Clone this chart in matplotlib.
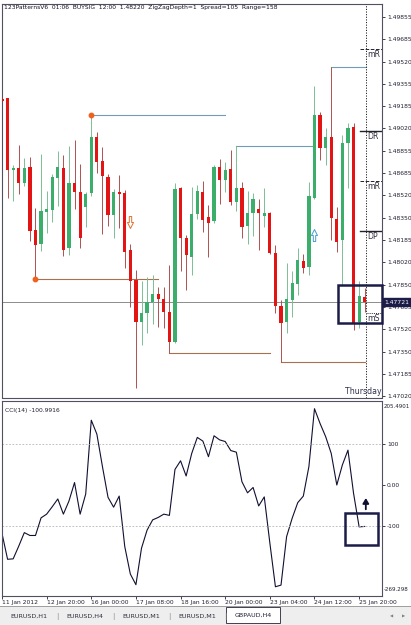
import matplotlib
matplotlib.use("Agg")
import matplotlib.pyplot as plt
import matplotlib.transforms as mtransforms
from matplotlib.patches import Rectangle
from matplotlib.path import Path

# GBPAUD H4 candles, first bar is 11 Jan 2012 12:00
opens = [1.49240, 1.49250, 1.48713, 1.48722, 1.48610, 1.48732, 1.48261, 1.48156, 1.48397, 1.48408,
         1.48652, 1.48726, 1.48124, 1.48610, 1.48547, 1.48435, 1.48535, 1.48958, 1.48776, 1.48659,
         1.48373, 1.48547, 1.48535, 1.48111, 1.47887, 1.47575, 1.47638, 1.47725, 1.47782, 1.47745,
         1.47646, 1.47426, 1.48572, 1.48203, 1.48061, 1.48378, 1.48545, 1.48360, 1.48330, 1.48729,
         1.48634, 1.48717, 1.48472, 1.48577, 1.48293, 1.48386, 1.48415, 1.48368, 1.48386, 1.48091,
         1.47693, 1.47575, 1.47738, 1.47855, 1.48029, 1.47986, 1.48502, 1.49120, 1.48871, 1.48958,
         1.48343, 1.48186, 1.48909, 1.49033, 1.47575, 1.47758]
highs = [1.49255, 1.49250, 1.48746, 1.48896, 1.48797, 1.48809, 1.48423, 1.48829, 1.48552, 1.48679,
         1.48849, 1.48821, 1.48886, 1.48933, 1.48752, 1.48542, 1.49120, 1.48995, 1.48883, 1.48677,
         1.48567, 1.48672, 1.48560, 1.48154, 1.47962, 1.47880, 1.47912, 1.47924, 1.47837, 1.47837,
         1.47999, 1.48614, 1.48584, 1.48223, 1.48584, 1.48597, 1.48629, 1.48448, 1.48746, 1.48791,
         1.48769, 1.48859, 1.48889, 1.48622, 1.48552, 1.48540, 1.48490, 1.48572, 1.48397, 1.48149,
         1.47738, 1.48012, 1.47954, 1.48124, 1.48079, 1.48617, 1.49337, 1.49145, 1.49025, 1.49481,
         1.48435, 1.48971, 1.49058, 1.49058, 1.47880, 1.47825]
lows = [1.49210, 1.48502, 1.48477, 1.48527, 1.48592, 1.48178, 1.47894, 1.48106, 1.48240, 1.48323,
        1.48442, 1.48069, 1.48074, 1.48418, 1.48124, 1.48285, 1.48517, 1.48684, 1.48229, 1.48291,
        1.48199, 1.48278, 1.47979, 1.47687, 1.47078, 1.47401, 1.47489, 1.47556, 1.47538, 1.47531,
        1.47344, 1.47414, 1.47954, 1.47812, 1.47924, 1.48341, 1.48248, 1.48057, 1.48311, 1.48455,
        1.48547, 1.48448, 1.48405, 1.48199, 1.48154, 1.48218, 1.48111, 1.48285, 1.48081, 1.47638,
        1.47276, 1.47489, 1.47613, 1.47775, 1.47937, 1.47924, 1.48492, 1.48784, 1.48746, 1.48186,
        1.48099, 1.47850, 1.48577, 1.47513, 1.47531, 1.47650]
closes = [1.49225, 1.48709, 1.48728, 1.48610, 1.48722, 1.48255, 1.48146, 1.48403, 1.48418, 1.48657,
          1.48732, 1.48113, 1.48610, 1.48542, 1.48203, 1.48532, 1.48958, 1.48771, 1.48667, 1.48373,
          1.48542, 1.48532, 1.48099, 1.47880, 1.47575, 1.47638, 1.47720, 1.47782, 1.47743, 1.47650,
          1.47426, 1.48567, 1.48199, 1.48074, 1.48380, 1.48552, 1.48335, 1.48315, 1.48729, 1.48634,
          1.48709, 1.48472, 1.48577, 1.48281, 1.48390, 1.48490, 1.48386, 1.48386, 1.48087, 1.47693,
          1.47568, 1.47745, 1.47867, 1.48036, 1.47979, 1.48515, 1.49120, 1.48871, 1.48958, 1.48348,
          1.48173, 1.48909, 1.49025, 1.47563, 1.47770, 1.47721]

# CCI(14) value for every bar
cci = [-118, -181, -180, -149, -116, -123, -123, -80, -71, -53,
       -34, -71, -39, 6, -71, -22, 158, 124, 45, -30,
       -54, -27, -150, -217, -243, -154, -110, -85, -79, -71,
       -74, 38, 59, 22, 77, 116, 107, 69, 120, 110,
       106, 84, 80, 8, -19, -6, -51, -29, -141, -248,
       -244, -126, -81, -43, -27, 45, 186, 150, 118, 77,
       0, 49, 85, -20, -102, -101]

# price scale labels on the right
price_ticks = [1.49855, 1.49685, 1.49520, 1.49355, 1.49185, 1.49020, 1.48855, 1.48685, 1.48520,
               1.48350, 1.48185, 1.48020, 1.47850, 1.47685, 1.47520, 1.47350, 1.47185, 1.47020]
last_price = 1.47721

# date labels, one every 8 bars
date_labels = ["11 Jan 2012", "12 Jan 20:00", "16 Jan 00:00", "17 Jan 08:00", "18 Jan 16:00",
               "20 Jan 00:00", "23 Jan 04:00", "24 Jan 12:00", "25 Jan 20:00"]

# 123 pattern swing lines (start bar, end bar)
swing_high_bars = [16, 42, 59]
swing_high_ends = [40, 56, 65.2]
swing_low_bars = [6, 30, 50]
swing_low_ends = [28, 48, 65]

# pivot levels drawn at the right edge
pivot_names = ["mR", "DR", "mR", "DP", "mS"]
pivot_levels = [1.49613, 1.49001, 1.48627, 1.48255, 1.47638]
pivot_styles = ["dashed", "solid", "dashed", "solid", "dotted"]

# signal arrows: bar, price
sell_arrow = (23, 1.48317)
buy_arrow = (56, 1.48220)

tab_names = ["EURUSD,H1", "EURUSD,H4", "EURUSD,M1", "EURUSD,M1", "GBPAUD,H4"]

W, H = 411, 625
SMALL = 4.3
BULL, BEAR = "#3cae6c", "#e31414"
BULL_WICK, BEAR_WICK = "#7cbf96", "#b05050"
DARK = "#1c1c48"


def hollow_arrow(up):
    # build a simple hollow arrow path used as a marker
    s = 1 if up else -1
    verts = [(-0.2, -s), (0.2, -s), (0.2, 0), (0.5, 0), (0, s), (-0.5, 0), (-0.2, 0), (-0.2, -s)]
    return Path(verts, closed=True)


fig = plt.figure(figsize=(W / 100, H / 100), dpi=100)
fig.patch.set_facecolor("white")

# main price pane
ax = fig.add_axes([2 / W, 1 - 397.5 / H, 380 / W, 393.5 / H])
# CCI pane
ax2 = fig.add_axes([2 / W, 1 - 595.5 / H, 380 / W, 194.8 / H])

xs = list(range(len(opens)))

# candles
for i in xs:
    o, h, l, c = opens[i], highs[i], lows[i], closes[i]
    bull = c >= o
    ax.vlines(i, l, h, colors=BULL_WICK if bull else BEAR_WICK, lw=0.7, zorder=2)
    body = max(abs(c - o), 0.000025)
    ax.bar(i, body, bottom=min(o, c), width=0.58, color=BULL if bull else BEAR, lw=0, zorder=3)

# current price line
ax.axhline(last_price, color="#8c8c8c", lw=0.7, zorder=1)

# swing lines from the 123 pattern
for b, e in zip(swing_high_bars, swing_high_ends):
    ax.plot([b, e], [highs[b], highs[b]], color="#6f9db5", lw=0.8, zorder=1.5)
for b, e in zip(swing_low_bars, swing_low_ends):
    ax.plot([b, e], [lows[b], lows[b]], color="#a8704f", lw=0.8, zorder=1.5)
ax.plot(swing_high_bars[0], highs[swing_high_bars[0]], "o", color="#f0601e", ms=3.2, zorder=4)
ax.plot(swing_low_bars[0], lows[swing_low_bars[0]], "o", color="#f0601e", ms=3.2, zorder=4)

# signal arrows
ax.plot(*sell_arrow, marker=hollow_arrow(False), ms=8.6, mfc="white", mec="#e07030", mew=0.7, zorder=4)
ax.plot(*buy_arrow, marker=hollow_arrow(True), ms=8.6, mfc="white", mec="#4a9ad0", mew=0.7, zorder=4)

# pivot levels and labels
for name, lvl, st in zip(pivot_names, pivot_levels, pivot_styles):
    x0 = 65.4 if name == "mS" else 64.2
    lw = 1.0 if st == "solid" else 0.7
    ax.plot([x0, 68.2], [lvl, lvl], color="#202030", lw=lw, linestyle=st if st != "dotted" else (0, (1, 1.2)), zorder=5)
    ax.text(65.5, lvl - 0.00008, name, fontsize=5.6, color="#303040", va="top", ha="left", zorder=5)

# day separator
ax.axvline(65.15, color="#202020", lw=0.7, linestyle=(0, (1.2, 1.5)), zorder=5)
ax.text(68.1, 1.47052, "Thursday", fontsize=5.6, color="#303050", ha="right", va="center", zorder=5)

# highlight box
ax.add_patch(Rectangle((60.27, 1.47563), 7.9, 0.00287, fill=False, ec=DARK, lw=1.8, zorder=6, clip_on=False))

ax.set_xlim(0, 68.1)
ax.set_ylim(1.47009, 1.49950)
ax.set_xticks([])
ax.yaxis.tick_right()
ax.set_yticks(price_ticks)
ax.set_yticklabels(["%.5f" % p for p in price_ticks])
ax.tick_params(axis="y", labelsize=SMALL, length=2, width=0.6, pad=1.5, colors="#202030")

# last price tag on the scale
trans = mtransforms.blended_transform_factory(ax.transAxes, ax.transData)
ax.text(1.006, last_price, "%.5f" % last_price, transform=trans, fontsize=SMALL, color="white",
        va="center", ha="left", zorder=10,
        bbox=dict(boxstyle="square,pad=0.25", fc=DARK, ec=DARK))

# CCI line and levels
ax2.plot(xs, cci, color="#101030", lw=0.8)
ax2.axhline(100, color="#b4b4b4", lw=0.6, linestyle=(0, (2, 2)))
ax2.axhline(-100, color="#b4b4b4", lw=0.6, linestyle=(0, (2, 2)))
ax2.set_xlim(0, 68.1)
ax2.set_ylim(-269.298, 205.4901)
ax2.yaxis.tick_right()
ax2.set_yticks([100, 0, -100])
ax2.set_yticklabels(["100", "0.00", "-100"])
ax2.tick_params(axis="y", labelsize=SMALL, length=2, width=0.6, pad=1.5, colors="#202030")
ax2.text(1.004, 0.985, "205.4901", transform=ax2.transAxes, fontsize=4.0, va="top", ha="left", color="#202030")
ax2.text(1.004, 0.02, "-269.298", transform=ax2.transAxes, fontsize=4.0, va="bottom", ha="left", color="#202030")
ax2.text(0.008, 0.965, "CCI(14) -100.9916", transform=ax2.transAxes, fontsize=SMALL, va="top", ha="left", color="#202030")

# CCI highlight box and arrow
ax2.add_patch(Rectangle((61.5, -147), 5.95, 78, fill=False, ec=DARK, lw=1.8, zorder=6))
ax2.annotate("", xy=(65.2, -25), xytext=(65.2, -66),
             arrowprops=dict(arrowstyle="-|>,head_width=0.18,head_length=0.3", color="#101030", lw=1.3))

ax2.set_xticks(range(0, 65, 8))
ax2.set_xticklabels(date_labels)
ax2.tick_params(axis="x", labelsize=SMALL, length=2, width=0.6, pad=1.5, colors="#202030")
for lbl in ax2.get_xticklabels():
    lbl.set_ha("left")

for a in (ax, ax2):
    for sp in a.spines.values():
        sp.set_color("#505060")
        sp.set_linewidth(0.8)

# title line of the indicator
fig.text(4 / W, 1 - 7.5 / H, "123PatternsV6  01:06  BUYSIG  12:00  1.48220  ZigZagDepth=1  Spread=105  Range=158",
         fontsize=SMALL, va="center", ha="left", color="#101020")

# symbol tabs at the bottom
fig.patches.append(Rectangle((0, 0), 1, 18 / H, transform=fig.transFigure, fc="#eeeeee", ec="none"))
fig.patches.append(Rectangle((0, 18 / H), 1, 0.6 / H, transform=fig.transFigure, fc="#a0a0a0", ec="none"))
for k, name in enumerate(tab_names[:-1]):
    fig.text((29 + 56 * k) / W, 9 / H, name, fontsize=4.6, ha="center", va="center", color="#303040")
    fig.text((57 + 56 * k) / W, 9 / H, "|", fontsize=5, ha="center", va="center", color="#909090")
fig.patches.append(Rectangle((225.7 / W, 2 / H), 54.3 / W, 16 / H, transform=fig.transFigure,
                             fc="white", ec="#404050", lw=0.7))
fig.text(253 / W, 9.5 / H, tab_names[-1], fontsize=4.6, ha="center", va="center", color="#202030")
fig.text(392 / W, 9 / H, "\u25c0", fontsize=3, ha="center", va="center", color="#808080")
fig.text(404 / W, 9 / H, "\u25b6", fontsize=3, ha="center", va="center", color="#808080")

fig.savefig("out.png", dpi=100)
